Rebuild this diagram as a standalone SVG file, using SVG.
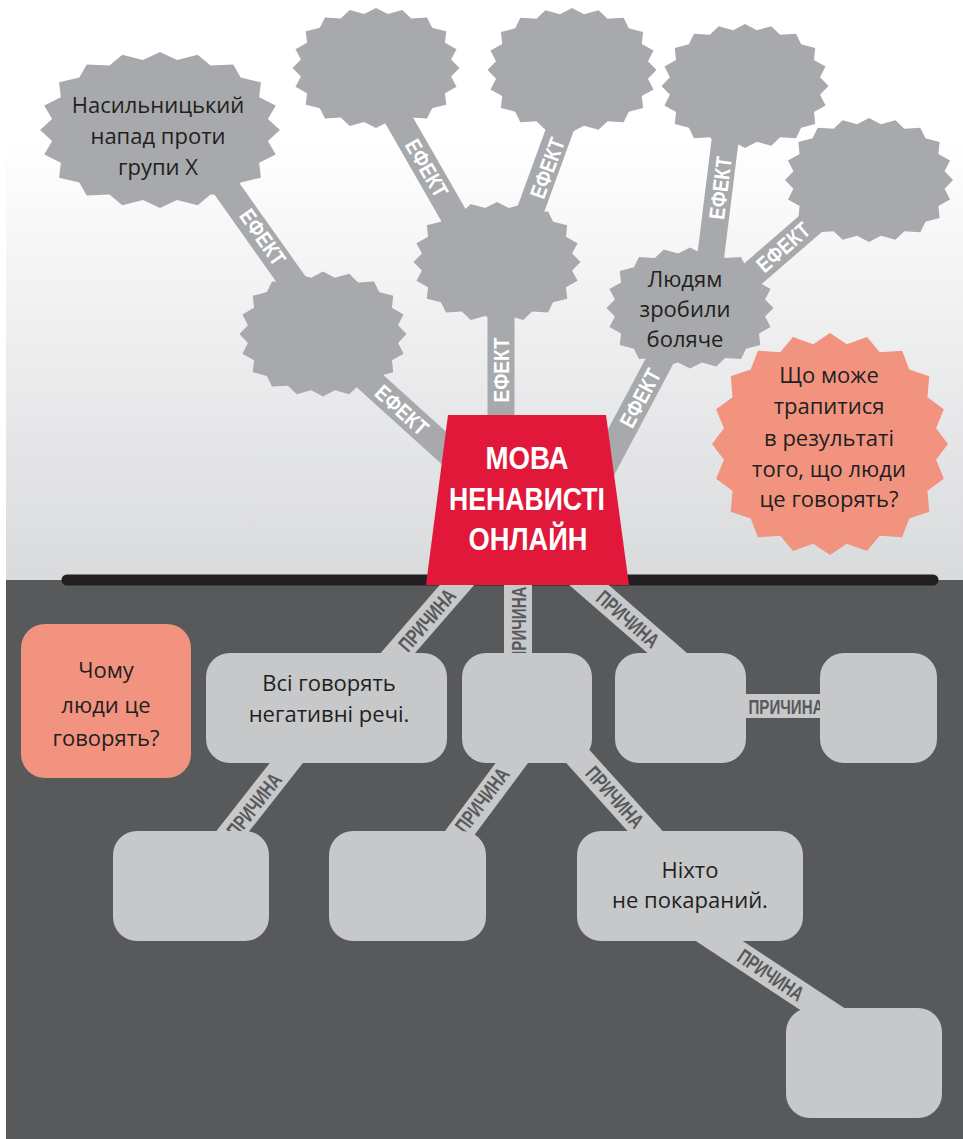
<svg xmlns="http://www.w3.org/2000/svg" xmlns:xlink="http://www.w3.org/1999/xlink" width="963" height="1139" viewBox="0 0 963 1139">
<style>
.burst{fill:#a7a9ac}
.hot{fill:#f1937f}
.box{fill:#c7c8ca}
.eband{stroke:#a7a9ac;stroke-width:27;fill:none}
.cband{stroke:#c7c8ca;stroke-width:26;fill:none}
.el{fill:#ffffff;font-family:"Liberation Sans Narrow","Liberation Sans",Arial,sans-serif;font-weight:bold;font-size:22px;text-anchor:middle}
.cl{fill:#58595b;font-family:"Liberation Sans Narrow","Liberation Sans",Arial,sans-serif;font-weight:bold;font-size:21px;text-anchor:middle}
.t{fill:#231f20;font-family:"Open Sans","Noto Sans","Liberation Sans",sans-serif;font-size:22px;text-anchor:middle}
.title{fill:#ffffff;font-family:"Liberation Sans Narrow","Liberation Sans",Arial,sans-serif;font-weight:bold;font-size:32px;text-anchor:middle}
</style>
<defs>
<linearGradient id="bg" x1="0" y1="0" x2="0" y2="580" gradientUnits="userSpaceOnUse">
<stop offset="0.24" stop-color="#ffffff"/>
<stop offset="1" stop-color="#d9dadc"/>
</linearGradient>
<path id="star" d="M100,0 89.9,14.2 96.5,31.4 82.6,42.1 84.1,61.1 67.2,67.2 61.1,84.1 42.1,82.6 31.4,96.5 14.2,89.9 0,100 -14.2,89.9 -31.4,96.5 -42.1,82.6 -61.1,84.1 -67.2,67.2 -84.1,61.1 -82.6,42.1 -96.5,31.4 -89.9,14.2 -100,0 -89.9,-14.2 -96.5,-31.4 -82.6,-42.1 -84.1,-61.1 -67.2,-67.2 -61.1,-84.1 -42.1,-82.6 -31.4,-96.5 -14.2,-89.9 0,-100 14.2,-89.9 31.4,-96.5 42.1,-82.6 61.1,-84.1 67.2,-67.2 84.1,-61.1 82.6,-42.1 96.5,-31.4 89.9,-14.2Z"/>
</defs>

<g id="background">
<rect x="0" y="0" width="963" height="1139" fill="#ffffff"/>
<rect x="6" y="0" width="957" height="580" fill="url(#bg)"/>
<rect x="6" y="580" width="957" height="559" fill="#58595b"/>
<line x1="67" y1="580" x2="933" y2="580" stroke="#231f20" stroke-width="11" stroke-linecap="round"/>
</g>

<g id="connectors">
<line class="eband" x1="330" y1="345" x2="465" y2="467"/>
<line class="eband" x1="215" y1="172" x2="305" y2="299"/>
<line class="eband" x1="501" y1="300" x2="501" y2="430"/>
<line class="eband" x1="392" y1="108" x2="462" y2="230"/>
<line class="eband" x1="567" y1="110" x2="524" y2="228"/>
<line class="eband" x1="675" y1="332" x2="592" y2="488"/>
<line class="eband" x1="727" y1="125" x2="709" y2="270"/>
<line class="eband" x1="830" y1="207" x2="740" y2="285"/>

<line class="cband" x1="470" y1="570" x2="390" y2="662"/>
<line class="cband" x1="518" y1="570" x2="518" y2="660" style="stroke-width:28"/>
<line class="cband" x1="574" y1="572" x2="681" y2="665"/>
<line class="cband" x1="740" y1="706" x2="826" y2="706" style="stroke-width:24"/>
<line class="cband" x1="295" y1="752" x2="225" y2="841"/>
<line class="cband" x1="520" y1="752" x2="453" y2="842"/>
<line class="cband" x1="572" y1="750" x2="655" y2="842"/>
<line class="cband" x1="695" y1="925" x2="839" y2="1020"/>

<text class="el" transform="translate(402,410) rotate(42)" y="8" textLength="63" lengthAdjust="spacingAndGlyphs">ЕФЕКТ</text>
<text class="el" transform="translate(263,237) rotate(55)" y="8" textLength="63" lengthAdjust="spacingAndGlyphs">ЕФЕКТ</text>
<text class="el" transform="translate(501,370) rotate(-90)" y="8" textLength="65" lengthAdjust="spacingAndGlyphs">ЕФЕКТ</text>
<text class="el" transform="translate(427,168) rotate(60)" y="8" textLength="63" lengthAdjust="spacingAndGlyphs">ЕФЕКТ</text>
<text class="el" transform="translate(547,168) rotate(-70)" y="8" textLength="63" lengthAdjust="spacingAndGlyphs">ЕФЕКТ</text>
<text class="el" transform="translate(640,398) rotate(-62)" y="8" textLength="63" lengthAdjust="spacingAndGlyphs">ЕФЕКТ</text>
<text class="el" transform="translate(720,188) rotate(-83)" y="8" textLength="63" lengthAdjust="spacingAndGlyphs">ЕФЕКТ</text>
<text class="el" transform="translate(783,247) rotate(-41)" y="8" textLength="63" lengthAdjust="spacingAndGlyphs">ЕФЕКТ</text>

<text class="cl" transform="translate(427,620) rotate(-49)" y="7.5" textLength="75" lengthAdjust="spacingAndGlyphs">ПРИЧИНА</text>
<text class="cl" transform="translate(518,624) rotate(-90)" y="7.5" textLength="75" lengthAdjust="spacingAndGlyphs">ПРИЧИНА</text>
<text class="cl" transform="translate(628,619) rotate(41)" y="7.5" textLength="75" lengthAdjust="spacingAndGlyphs">ПРИЧИНА</text>
<text class="cl" x="786" y="713.5" textLength="75" lengthAdjust="spacingAndGlyphs">ПРИЧИНА</text>
<text class="cl" transform="translate(254,805) rotate(-52)" y="7.5" textLength="75" lengthAdjust="spacingAndGlyphs">ПРИЧИНА</text>
<text class="cl" transform="translate(482,800) rotate(-53)" y="7.5" textLength="75" lengthAdjust="spacingAndGlyphs">ПРИЧИНА</text>
<text class="cl" transform="translate(615,797) rotate(48)" y="7.5" textLength="75" lengthAdjust="spacingAndGlyphs">ПРИЧИНА</text>
<text class="cl" transform="translate(771,975) rotate(34)" y="7.5" textLength="75" lengthAdjust="spacingAndGlyphs">ПРИЧИНА</text>
</g>

<g id="effect-violent-attack">
<use xlink:href="#star" class="burst" transform="translate(160,130) scale(1.2,0.78)"/>
<text class="t" x="158" y="113">Насильницький</text>
<text class="t" x="158" y="144">напад проти</text>
<text class="t" x="158" y="175">групи X</text>
</g>
<g id="effect-top-1"><use xlink:href="#star" class="burst" transform="translate(376,68) scale(0.835,0.6)"/></g>
<g id="effect-top-2"><use xlink:href="#star" class="burst" transform="translate(572,70) scale(0.845,0.62)"/></g>
<g id="effect-top-3"><use xlink:href="#star" class="burst" transform="translate(745,86) scale(0.835,0.62)"/></g>
<g id="effect-right"><use xlink:href="#star" class="burst" transform="translate(869,180) scale(0.84,0.62)"/></g>
<g id="effect-center"><use xlink:href="#star" class="burst" transform="translate(497,262) scale(0.835,0.6)"/></g>
<g id="effect-left"><use xlink:href="#star" class="burst" transform="translate(323,334) scale(0.835,0.625)"/></g>
<g id="effect-hurt">
<use xlink:href="#star" class="burst" transform="translate(690,308) scale(0.835,0.605)"/>
<text class="t" x="685" y="287">Людям</text>
<text class="t" x="685" y="317">зробили</text>
<text class="t" x="685" y="347">боляче</text>
</g>
<g id="question-effects">
<use xlink:href="#star" class="hot" transform="translate(830,444) scale(1.18,1.11)"/>
<text class="t" x="829" y="383">Що може</text>
<text class="t" x="829" y="414">трапитися</text>
<text class="t" x="829" y="446">в результаті</text>
<text class="t" x="829" y="477">того, що люди</text>
<text class="t" x="829" y="507">це говорять?</text>
</g>

<g id="hate-speech">
<polygon points="448,415 606,415 629,585 426,585" fill="#e2183a"/>
<text class="title" x="527" y="469" textLength="83" lengthAdjust="spacingAndGlyphs">МОВА</text>
<text class="title" x="527" y="510" textLength="156" lengthAdjust="spacingAndGlyphs">НЕНАВИСТІ</text>
<text class="title" x="528" y="550" textLength="119" lengthAdjust="spacingAndGlyphs">ОНЛАЙН</text>
</g>

<g id="question-causes">
<rect x="21" y="624" width="170" height="154" rx="24" class="hot"/>
<text class="t" x="106" y="678">Чому</text>
<text class="t" x="106" y="713">люди це</text>
<text class="t" x="106" y="746">говорять?</text>
</g>
<g id="cause-everyone">
<rect x="206" y="653" width="241" height="110" rx="24" class="box"/>
<text class="t" x="329" y="691">Всі говорять</text>
<text class="t" x="329" y="722">негативні речі.</text>
</g>
<g id="cause-2"><rect x="462" y="653" width="130" height="110" rx="24" class="box"/></g>
<g id="cause-3"><rect x="615" y="653" width="131" height="110" rx="24" class="box"/></g>
<g id="cause-4"><rect x="820" y="653" width="117" height="110" rx="24" class="box"/></g>
<g id="cause-5"><rect x="113" y="831" width="156" height="110" rx="24" class="box"/></g>
<g id="cause-6"><rect x="329" y="831" width="157" height="110" rx="24" class="box"/></g>
<g id="cause-unpunished">
<rect x="577" y="831" width="226" height="110" rx="24" class="box"/>
<text class="t" x="690" y="878">Ніхто</text>
<text class="t" x="690" y="908">не покараний.</text>
</g>
<g id="cause-8"><rect x="786" y="1008" width="156" height="110" rx="24" class="box"/></g>
</svg>
